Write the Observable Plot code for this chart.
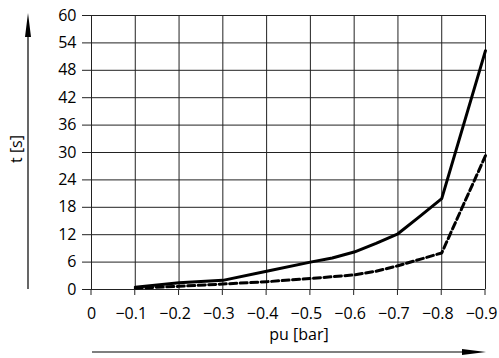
<!DOCTYPE html>
<html>
<head>
<meta charset="utf-8">
<script src="https://cdn.jsdelivr.net/npm/d3@7"></script>
<script src="https://cdn.jsdelivr.net/npm/@observablehq/plot@0.6"></script>
<style>
  html, body { margin: 0; padding: 0; background: #fff; }
  #chart { width: 499px; height: 358px; }
</style>
</head>
<body>
<div id="chart"></div>
<script>
// Data
const xTicks = [0, -0.1, -0.2, -0.3, -0.4, -0.5, -0.6, -0.7, -0.8, -0.9];
const yTicks = [0, 6, 12, 18, 24, 30, 36, 42, 48, 54, 60];
const solidPu = [-0.1, -0.2, -0.3, -0.4, -0.5, -0.55, -0.6, -0.65, -0.7, -0.75, -0.8, -0.9];
const solidT  = [0.5, 1.5, 2.0, 4.0, 6.0, 6.9, 8.2, 10.1, 12.2, 16.0, 19.9, 52.3];
const dashedPu = [-0.1, -0.2, -0.3, -0.4, -0.5, -0.55, -0.6, -0.65, -0.7, -0.75, -0.8, -0.9];
const dashedT  = [0.3, 0.7, 1.2, 1.7, 2.4, 2.8, 3.2, 4.0, 5.2, 6.6, 8.0, 29.3];
const xLabel = "pu [bar]";
const yLabel = "t [s]";

const solid = solidPu.map((p, i) => ({pu: p, t: solidT[i]}));
const dashed = dashedPu.map((p, i) => ({pu: p, t: dashedT[i]}));
const fmt = d => d === 0 ? "0" : d3.format(".1f")(d);

const plot = Plot.plot({
  width: 499,
  height: 358,
  marginLeft: 91,
  marginRight: 14,
  marginTop: 15,
  marginBottom: 69,
  style: {fontFamily: "Open Sans", fontSize: "16px", color: "#000", background: "#fff"},
  x: {domain: [0, -0.9], axis: null},
  y: {domain: [0, 60], label: null},
  marks: [
    Plot.gridX(xTicks, {stroke: "#222", strokeOpacity: 1, strokeWidth: 1}),
    Plot.gridY(yTicks, {stroke: "#222", strokeOpacity: 1, strokeWidth: 1}),
    Plot.text(xTicks.slice(0, 1), {x: d => d, text: fmt, frameAnchor: "bottom", lineAnchor: "top", dy: 18, fill: "#000", fontSize: 16}),
    Plot.text(xTicks.slice(1), {x: d => d, text: fmt, frameAnchor: "bottom", lineAnchor: "top", dy: 18, dx: -4, fill: "#000", fontSize: 16}),
    Plot.axisY(yTicks, {tickSize: 9, tickPadding: 6, label: null, stroke: "#222", fontSize: 16}),
    Plot.line(dashed, {x: "pu", y: "t", stroke: "#000", strokeWidth: 3, strokeDasharray: "7,3.5"}),
    Plot.line(solid, {x: "pu", y: "t", stroke: "#000", strokeWidth: 3})
  ]
});
document.getElementById("chart").appendChild(plot);

// Axis titles and direction arrows, placed relative to the plot's scales
const svg = d3.select(plot);
const xs = plot.scale("x"), ys = plot.scale("y");
const x0 = xs.apply(0), x1 = xs.apply(-0.9);
const y0 = ys.apply(0), y1 = ys.apply(60);
const ax = 28, ay = 352;

// short downward tick extensions under the x grid
xTicks.forEach(t => {
  svg.append("line").attr("x1", xs.apply(t)).attr("x2", xs.apply(t))
    .attr("y1", y0).attr("y2", y0 + 6).attr("stroke", "#222").attr("stroke-width", 1);
});

svg.append("line").attr("x1", ax).attr("x2", ax).attr("y1", y0).attr("y2", y1 + 16)
  .attr("stroke", "#000").attr("stroke-width", 1.2);
svg.append("path").attr("d", `M${ax},${y1 - 2} L${ax - 3},${y1 + 22} L${ax + 3},${y1 + 22} Z`).attr("fill", "#000");

svg.append("line").attr("x1", x0 + 1).attr("x2", x1 - 16).attr("y1", ay).attr("y2", ay)
  .attr("stroke", "#000").attr("stroke-width", 1.2);
svg.append("path").attr("d", `M${x1 + 1},${ay} L${x1 - 23},${ay - 3} L${x1 - 23},${ay + 3} Z`).attr("fill", "#000");

svg.append("text").text(yLabel)
  .attr("transform", `translate(${22},${(y0 + y1) / 2 - 3}) rotate(-90)`)
  .attr("text-anchor", "middle").attr("font-size", 16).attr("fill", "#000");
svg.append("text").text(xLabel)
  .attr("x", 299).attr("y", 340)
  .attr("text-anchor", "middle").attr("font-size", 16).attr("fill", "#000");
</script>
</body>
</html>
